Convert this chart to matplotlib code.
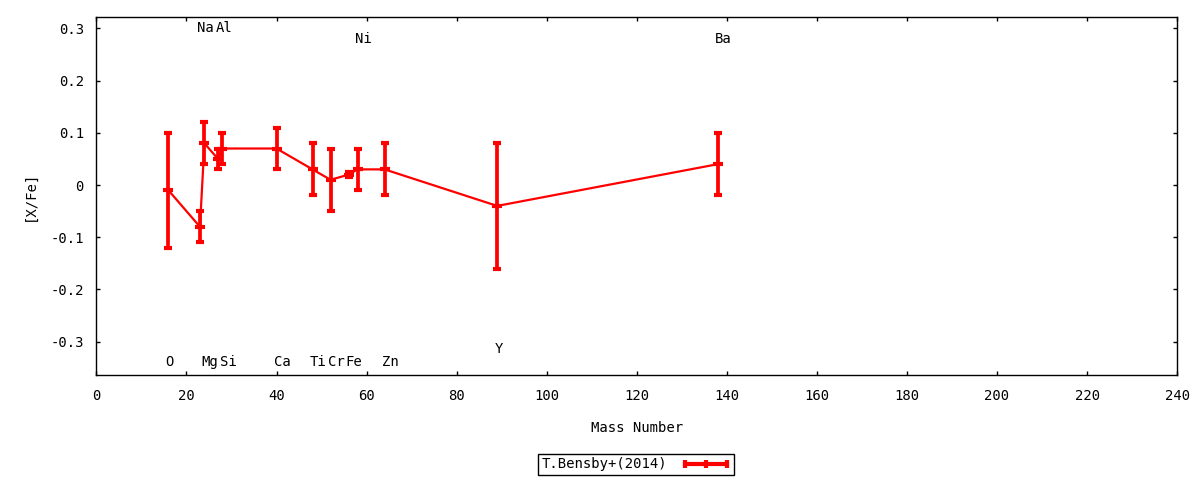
import numpy as np
import matplotlib
matplotlib.use('Agg')
import matplotlib.pyplot as plt
from matplotlib.lines import Line2D

# abundance pattern, T.Bensby+(2014)
elements = ['O', 'Na', 'Mg', 'Al', 'Si', 'Ca', 'Ti', 'Cr', 'Fe', 'Ni', 'Zn', 'Y', 'Ba']
mass = [16, 23, 24, 27, 28, 40, 48, 52, 56, 58, 64, 89, 138]
xfe = [-0.01, -0.08, 0.08, 0.05, 0.07, 0.07, 0.03, 0.01, 0.02, 0.03, 0.03, -0.04, 0.04]
err = [0.11, 0.03, 0.04, 0.02, 0.03, 0.04, 0.05, 0.06, 0.005, 0.04, 0.05, 0.12, 0.06]
label_y = [-0.34, 0.30, -0.34, 0.30, -0.34, -0.34, -0.34, -0.34, -0.34, 0.28, -0.34, -0.315, 0.28]

plt.rcParams['font.family'] = ['DejaVu Sans Mono']
plt.rcParams['font.size'] = 9.5

fig = plt.figure(figsize=(12, 4.8), dpi=100)
ax = fig.add_axes([0.0803, 0.21875, 0.9007, 0.74585])

red = '#ff0000'
ax.plot(mass, xfe, color=red, lw=1.6, zorder=2)
ax.errorbar(mass, xfe, yerr=err, fmt='none', ecolor=red, elinewidth=2.7,
            capsize=3.2, capthick=3.0, zorder=3)
ax.plot(mass, xfe, ls='none', marker='_', ms=6.5, mew=3.0, color=red, zorder=4)

for el, m, ly in zip(elements, mass, label_y):
    ax.text(m - 0.6, ly, el, ha='left', va='center', fontsize=10)

ax.set_xlim(0, 240)
ax.set_ylim(-0.364, 0.322)
ax.set_xticks(np.arange(0, 241, 20))
ax.set_yticks([-0.3, -0.2, -0.1, 0, 0.1, 0.2, 0.3])
ax.set_yticklabels(['-0.3', '-0.2', '-0.1', '0', '0.1', '0.2', '0.3'])
ax.tick_params(direction='in', length=3.2, width=1, top=True, right=True,
               labelsize=10)
ax.tick_params(axis='x', pad=10)
ax.tick_params(axis='y', pad=9)
for s in ax.spines.values():
    s.set_linewidth(1)

ax.set_xlabel('Mass Number', fontsize=10, labelpad=13)
ax.set_ylabel('[X/Fe]', fontsize=10, labelpad=10)

handle = Line2D([], [], color=red, lw=3, marker='|', ms=6, mew=3)
leg = fig.legend([handle], ['T.Bensby+(2014)'], loc='center',
                 bbox_to_anchor=(0.53, 0.0323), numpoints=3, markerfirst=False,
                 handlelength=3.6, fancybox=False, framealpha=1,
                 edgecolor='black', fontsize=10, borderpad=0.25,
                 handletextpad=1.0, borderaxespad=0)
leg.get_frame().set_linewidth(1)

fig.savefig('out.png', dpi=100)
